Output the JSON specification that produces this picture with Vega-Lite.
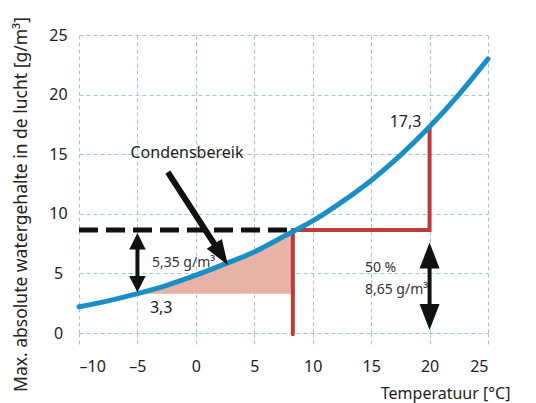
{
  "$schema": "https://vega.github.io/schema/vega-lite/v6.json",
  "width": 409,
  "height": 298,
  "autosize": {"type": "none"},
  "padding": {"left": 79, "top": 35, "right": 48, "bottom": 70},
  "background": "white",
  "config": {
    "view": {"stroke": null},
    "font": "Noto Sans",
    "axis": {
      "grid": true,
      "gridColor": "#9cc8d4",
      "gridDash": [4, 3],
      "gridWidth": 1,
      "domain": false,
      "labelFont": "Noto Sans",
      "labelFontSize": 16,
      "labelColor": "#222",
      "titleFont": "Noto Sans",
      "titleFontSize": 16,
      "titleFontWeight": "normal",
      "titleColor": "#222"
    }
  },
  "datasets": {
    "curve": [
      {"x": -10, "y": 2.2}, {"x": -7.5, "y": 2.7}, {"x": -5, "y": 3.3}, {"x": -2.5, "y": 4.0},
      {"x": 0, "y": 4.85}, {"x": 2.5, "y": 5.8}, {"x": 5, "y": 6.8}, {"x": 7.5, "y": 8.1},
      {"x": 10, "y": 9.4}, {"x": 12.5, "y": 11.0}, {"x": 15, "y": 12.8}, {"x": 17.5, "y": 14.9},
      {"x": 20, "y": 17.3}, {"x": 22.5, "y": 20.0}, {"x": 25, "y": 23.0}
    ],
    "fill": [
      {"x": -5, "y": 3.3}, {"x": -2.5, "y": 4.0}, {"x": 0, "y": 4.85}, {"x": 2.5, "y": 5.8},
      {"x": 5, "y": 6.8}, {"x": 7.5, "y": 8.1}, {"x": 8.3, "y": 8.6}
    ],
    "redpath": [
      {"o": 1, "x": 8.3, "y": -0.1}, {"o": 2, "x": 8.3, "y": 8.65},
      {"o": 3, "x": 20, "y": 8.65}, {"o": 4, "x": 20, "y": 17.3}
    ]
  },
  "encoding": {
    "x": {
      "field": "x", "type": "quantitative",
      "scale": {"domain": [-10, 25], "nice": false, "zero": false},
      "axis": {
        "values": [-10, -5, 0, 5, 10, 15, 20, 25],
        "title": "Temperatuur [°C]",
        "labelExpr": "datum.value < 0 ? '–' + (-datum.value) : datum.label",
        "ticks": true, "tickSize": 12, "tickColor": "#9cc8d4", "tickDash": [4, 3],
        "labelPadding": 13,
        "titleX": 431, "titleY": 60, "titleAlign": "right", "titleBaseline": "middle", "titleAnchor": null
      }
    },
    "y": {
      "field": "y", "type": "quantitative",
      "scale": {"domain": [0, 25], "nice": false},
      "axis": {
        "values": [0, 5, 10, 15, 20, 25],
        "title": "Max. absolute watergehalte in de lucht [g/m³]",
        "ticks": false, "labelAlign": "center", "labelPadding": 21,
        "titleFontSize": 17.5,
        "titleAngle": -90, "titleX": -58, "titleY": 169, "titleAlign": "center", "titleBaseline": "middle"
      }
    }
  },
  "layer": [
    {
      "data": {"name": "fill"},
      "mark": {"type": "area", "interpolate": "monotone", "color": "#e8b2a6", "opacity": 1},
      "encoding": {"y2": {"datum": 3.3}}
    },
    {
      "data": {"values": [{"x": -10, "x2": 8.3, "y": 8.65}]},
      "mark": {"type": "rule", "color": "#111", "strokeWidth": 5, "strokeDash": [19, 8]},
      "encoding": {"x2": {"field": "x2"}}
    },
    {
      "data": {"name": "redpath"},
      "mark": {"type": "line", "color": "#bd3b3c", "strokeWidth": 4, "strokeCap": "round", "strokeJoin": "miter"},
      "encoding": {"order": {"field": "o"}}
    },
    {
      "data": {"name": "curve"},
      "mark": {"type": "line", "interpolate": "monotone", "color": "#1a8fc6", "strokeWidth": 5, "strokeCap": "round"}
    },
    {
      "data": {"values": [
        {"x": -5, "y": 4.1, "y2": 7.7},
        {"x": 20, "y": 1.34, "y2": 6.5}
      ]},
      "mark": {"type": "rule", "color": "#111", "strokeWidth": 4},
      "encoding": {"y2": {"field": "y2"}}
    },
    {
      "data": {"values": [{"x": -2.4, "y": 13.5, "x2": 2.16, "y2": 6.59}]},
      "mark": {"type": "rule", "color": "#111", "strokeWidth": 6},
      "encoding": {"x2": {"field": "x2"}, "y2": {"field": "y2"}}
    },
    {
      "data": {"values": [{"x": -5, "y": 7.7}]},
      "mark": {"type": "point", "shape": "M0,-1 L1,1 L-1,1 Z", "size": 272, "filled": true, "color": "#111", "opacity": 1}
    },
    {
      "data": {"values": [{"x": -5, "y": 4.1}]},
      "mark": {"type": "point", "shape": "M0,1 L1,-1 L-1,-1 Z", "size": 272, "filled": true, "color": "#111", "opacity": 1}
    },
    {
      "data": {"values": [{"x": 20, "y": 6.5}]},
      "mark": {"type": "point", "shape": "M0,-1 L0.77,1 L-0.77,1 Z", "size": 676, "filled": true, "color": "#111", "opacity": 1}
    },
    {
      "data": {"values": [{"x": 20, "y": 1.34}]},
      "mark": {"type": "point", "shape": "M0,1 L0.77,-1 L-0.77,-1 Z", "size": 676, "filled": true, "color": "#111", "opacity": 1}
    },
    {
      "data": {"values": [{"x": 2.16, "y": 6.59}]},
      "mark": {"type": "point", "shape": "M0,1 L0.72,-1 L-0.72,-1 Z", "size": 625, "filled": true, "color": "#111", "opacity": 1, "angle": 327}
    },
    {
      "data": {"values": [{"x": -0.76, "y": 15.1, "label": "Condensbereik"}]},
      "mark": {"type": "text", "fontSize": 16, "align": "center", "baseline": "middle", "color": "#222"},
      "encoding": {"text": {"field": "label"}}
    },
    {
      "data": {"values": [{"x": 19.3, "y": 17.7, "label": "17,3"}]},
      "mark": {"type": "text", "fontSize": 16, "align": "right", "baseline": "middle", "color": "#222"},
      "encoding": {"text": {"field": "label"}}
    },
    {
      "data": {"values": [{"x": -3.93, "y": 2.1, "label": "3,3"}]},
      "mark": {"type": "text", "fontSize": 16, "align": "left", "baseline": "middle", "color": "#222"},
      "encoding": {"text": {"field": "label"}}
    },
    {
      "data": {"values": [
        {"x": -3.76, "y": 5.87, "label": "5,35 g/m³"},
        {"x": 14.47, "y": 5.45, "label": "50 %"},
        {"x": 14.47, "y": 3.6, "label": "8,65 g/m³"}
      ]},
      "mark": {"type": "text", "fontSize": 14, "align": "left", "baseline": "middle", "color": "#333"},
      "encoding": {"text": {"field": "label"}}
    }
  ]
}
